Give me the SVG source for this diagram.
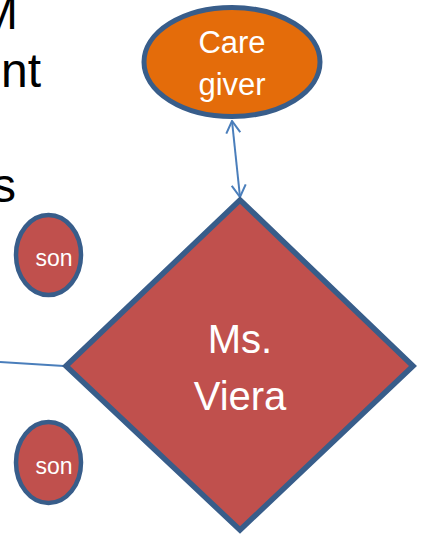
<svg xmlns="http://www.w3.org/2000/svg" width="423" height="536" viewBox="0 0 423 536">
<style>
.t{font-family:"Liberation Sans",Arial,sans-serif;}
.w{fill:#ffffff;text-anchor:middle;}
.shape{stroke:#385D8A;}
.red{fill:#C0504D;}
.con{stroke:#4A7EBB;fill:none;}
</style>
<defs>
<marker id="ah" viewBox="0 0 14 16" refX="13" refY="8" markerWidth="14" markerHeight="16" markerUnits="userSpaceOnUse" orient="auto-start-reverse">
<path d="M1,1 L13,8 L1,15" fill="none" stroke="#4A7EBB" stroke-width="2"/>
</marker>
</defs>
<g id="bg-text" class="t" font-size="48" fill="#000000" text-anchor="end">
<text x="18" y="29">M</text>
<text x="41" y="87">nt</text>
<text x="16" y="202">s</text>
</g>
<g id="connectors">
<line class="con" x1="232" y1="121" x2="240" y2="197" stroke-width="2" marker-start="url(#ah)" marker-end="url(#ah)"/>
<line class="con" x1="0" y1="362" x2="64" y2="366" stroke-width="2"/>
</g>
<g id="caregiver">
<ellipse class="shape" cx="232" cy="62" rx="88" ry="54.5" fill="#E46C0A" stroke-width="5"/>
<text class="t w" x="232" y="53" font-size="31">Care</text>
<text class="t w" x="232" y="95" font-size="31">giver</text>
</g>
<g id="viera">
<path class="shape red" d="M240,200 L413,366 L240,530 L66,366 Z" stroke-width="5.5" stroke-linejoin="miter"/>
<text class="t w" x="240" y="353" font-size="40">Ms.</text>
<text class="t w" x="240" y="410" font-size="40">Viera</text>
</g>
<g id="son1">
<ellipse class="shape red" cx="48.5" cy="255" rx="32.5" ry="40" stroke-width="4.5"/>
<text class="t w" x="54" y="266" font-size="23">son</text>
</g>
<g id="son2">
<ellipse class="shape red" cx="48.5" cy="462.5" rx="32.5" ry="40.5" stroke-width="4.5"/>
<text class="t w" x="54" y="474" font-size="23">son</text>
</g>
</svg>
